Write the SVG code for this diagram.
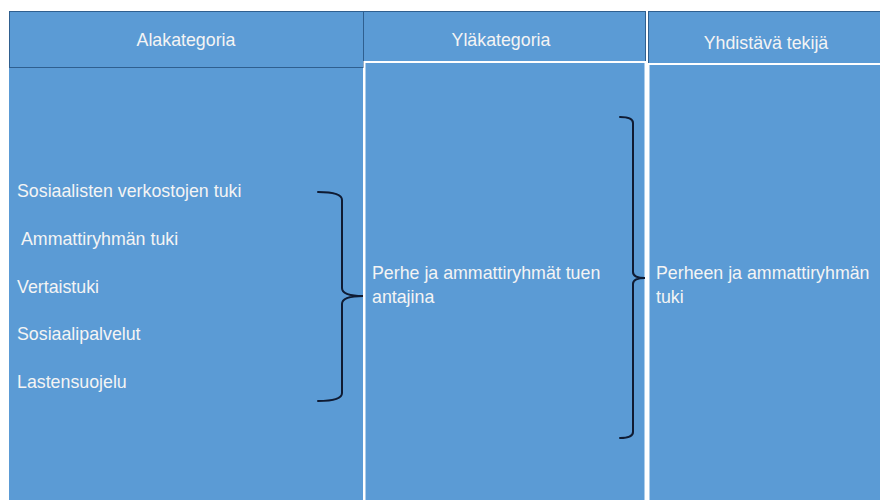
<svg xmlns="http://www.w3.org/2000/svg" width="880" height="500" viewBox="0 0 880 500">
<style>
.hdr{fill:#5B9BD5;stroke:#2F5F8F;stroke-width:1}
.body{fill:#5B9BD5;stroke:#FFFFFF;stroke-width:2}
.t{font-family:"Liberation Sans",Arial,sans-serif;font-size:17.8px;fill:#F4F4F4}
.th{font-family:"Liberation Sans",Arial,sans-serif;font-size:17.8px;fill:#F4F4F4;text-anchor:middle}
.brace{fill:none;stroke:#0F1B33;stroke-width:2;stroke-linecap:round}
</style>
<rect width="880" height="500" fill="#FFFFFF"/>
<g id="col1">
<rect x="9" y="67" width="354" height="440" fill="#5B9BD5"/>
<rect class="hdr" x="9.5" y="11.5" width="354" height="56"/>
<text class="th" x="186" y="46">Alakategoria</text>
<text class="t" x="17" y="197">Sosiaalisten verkostojen tuki</text>
<text class="t" x="21" y="245">Ammattiryhmän tuki</text>
<text class="t" x="17" y="293">Vertaistuki</text>
<text class="t" x="17" y="340">Sosiaalipalvelut</text>
<text class="t" x="17" y="388">Lastensuojelu</text>
</g>
<g id="col2">
<rect class="hdr" x="363.5" y="11.5" width="282" height="50"/>
<rect class="body" x="364.5" y="62" width="281" height="445"/>
<text class="th" x="501" y="46">Yläkategoria</text>
<text class="t" x="372" y="279">Perhe ja ammattiryhmät tuen</text>
<text class="t" x="372" y="303">antajina</text>
</g>
<g id="col3">
<rect class="hdr" x="648.5" y="11.5" width="240" height="52"/>
<rect class="body" x="648.5" y="64" width="240" height="445"/>
<text class="th" x="766" y="49">Yhdistävä tekijä</text>
<text class="t" x="656" y="279">Perheen ja ammattiryhmän</text>
<text class="t" x="656" y="303">tuki</text>
</g>
<g id="connectors">
<path class="brace" d="M318,192 Q342,192 342,200 L342,288 Q342,296 363,296 Q342,296 342,304 L342,393 Q342,401 318,401"/>
<path class="brace" d="M620,117 Q633,117 633,123 L633,272 Q633,278 645,278 Q633,278 633,284 L633,432 Q633,438 620,438"/>
</g>
</svg>
